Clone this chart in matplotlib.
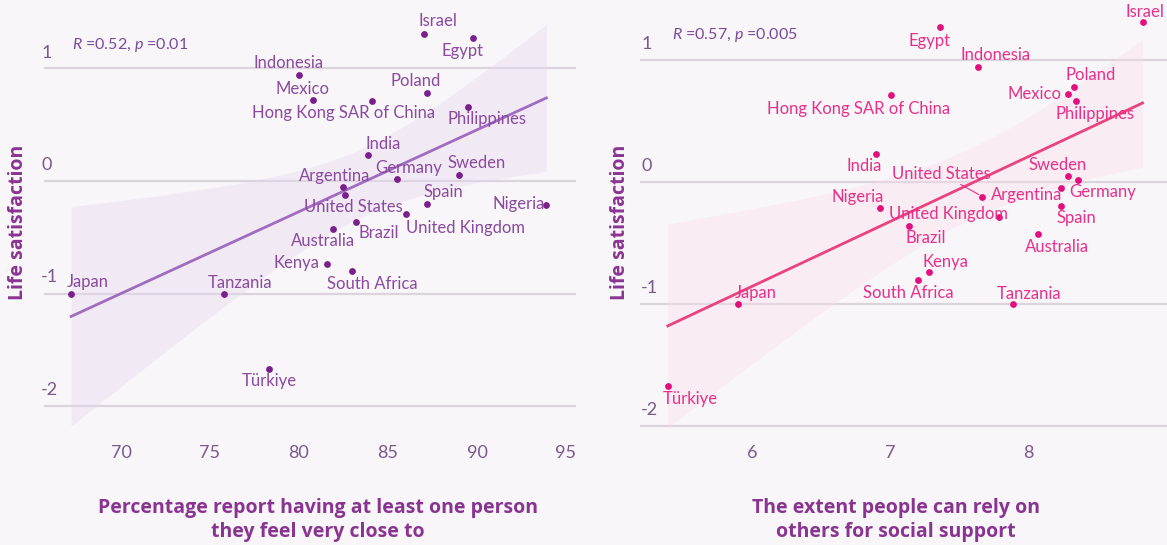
import numpy as np
import matplotlib
matplotlib.use("Agg")
import matplotlib.pyplot as plt

plt.rcParams['font.family'] = ['Lato', 'DejaVu Sans']
plt.rcParams['mathtext.fontset'] = 'custom'
plt.rcParams['mathtext.it'] = 'Lato:italic'
plt.rcParams['mathtext.rm'] = 'Lato'

# countries and life satisfaction (standardised), shared by both panels
countries = ["Israel", "Egypt", "Indonesia", "Poland", "Mexico", "Hong Kong SAR of China",
             "Philippines", "India", "Sweden", "Germany", "Argentina", "United States",
             "Spain", "Nigeria", "United Kingdom", "Brazil", "Australia", "Kenya",
             "South Africa", "Japan", "Tanzania", "Türkiye"]
life_sat = [1.31, 1.27, 0.94, 0.78, 0.72, 0.71, 0.66, 0.23, 0.05, 0.02, -0.05, -0.12,
            -0.20, -0.21, -0.29, -0.36, -0.43, -0.74, -0.80, -1.00, -1.00, -1.67]

# % with at least one person they feel very close to
close_pct = [87.0, 89.8, 80.0, 87.2, 80.8, 84.1, 89.5, 83.9, 89.0, 85.5, 82.5, 82.6,
             87.2, 93.9, 86.0, 83.2, 81.9, 81.6, 83.0, 67.2, 75.8, 78.3]
# extent people can rely on others for social support
rely_score = [8.83, 7.36, 7.64, 8.33, 8.29, 7.01, 8.35, 6.90, 8.29, 8.36, 8.24, 7.67,
              8.24, 6.93, 7.79, 7.14, 8.07, 7.28, 7.20, 5.90, 7.89, 5.39]

# label offsets in pixels (dx, dy), dy upwards
left_offsets = [(14, 13), (-11, -13), (-10, 12), (-11, 12), (-11, 11), (-28, -12),
                (19, -12), (15, 11), (17, 12), (12, 11), (-9, 11), (8, -13),
                (16, 11), (-28, 1), (60, -14), (23, -12), (-10, -12), (-31, 1),
                (20, -13), (17, 12), (16, 11), (1, -12)]
right_offsets = [(2, 10), (-10, -14), (17, 12), (17, 12), (-34, 0), (-33, -14),
                 (19, -13), (-12, -12), (-10, 11), (25, -12), (-34, -7), (-41, 23),
                 (15, -12), (-23, 11), (-51, 3), (16, -12), (19, -13), (17, 10),
                 (-9, -13), (18, 11), (16, 10), (22, -13)]

W, H = 1167, 545
fig = plt.figure(figsize=(W / 100, H / 100), dpi=100)
fig.patch.set_facecolor('#f8f6f9')


def px_axes(x0, x1, y0, y1):
    return fig.add_axes([x0 / W, 1 - y1 / H, (x1 - x0) / W, (y1 - y0) / H])


def panel(ax, x, y, offsets, dot_col, lab_col, line_col, band_col, stat_txt, stat_y,
          xticks, grid_x0, grid_x1):
    ax.set_facecolor('none')
    for s in ax.spines.values():
        s.set_visible(False)
    x = np.asarray(x)
    y = np.asarray(y)
    # least squares fit with 95% band
    b, a = np.polyfit(x, y, 1)
    n = len(x)
    resid = y - (a + b * x)
    s_err = np.sqrt(np.sum(resid ** 2) / (n - 2))
    xs = np.linspace(x.min(), x.max(), 100)
    se = s_err * np.sqrt(1 / n + (xs - x.mean()) ** 2 / np.sum((x - x.mean()) ** 2))
    ax.fill_between(xs, a + b * xs - 2.086 * se, a + b * xs + 2.086 * se,
                    color=band_col, alpha=0.35, lw=0, zorder=1)
    for yt in [1, 0, -1, -2]:
        ax.axhline(yt, xmin=grid_x0, xmax=grid_x1, color='#dcd4dc', lw=1.6, zorder=0)
        ax.annotate(str(yt), (0.002, yt), xycoords=ax.get_yaxis_transform(),
                    xytext=(0, 16), textcoords='offset pixels',
                    ha='left', va='center', fontsize=13, color='#7a5a8c')
    ax.plot(xs[[0, -1]], a + b * xs[[0, -1]], color=line_col, lw=2, zorder=2)
    ax.scatter(x, y, s=24, color=dot_col, zorder=3, lw=0)
    for i, name in enumerate(countries):
        dx, dy = offsets[i]
        arrow = None
        if abs(dx) > 35 and abs(dy) > 15:
            arrow = dict(arrowstyle='-', color=lab_col, lw=0.8, shrinkA=0, shrinkB=3)
        ax.annotate(name, (x[i], y[i]), xytext=(dx, dy), textcoords='offset pixels',
                    ha='center', va='center', fontsize=12, color=lab_col,
                    arrowprops=arrow, zorder=4)
    ax.text(0.06, stat_y, stat_txt, transform=ax.transAxes, fontsize=11.5,
            color='#7a4a9a', ha='left', va='center')
    ax.set_xticks(xticks)
    ax.set_yticks([])
    ax.tick_params(axis='x', length=0, pad=11, labelsize=13, labelcolor='#7a5a8c')


# left panel
axl = px_axes(40, 580, 0, 430)
axl.set_xlim(65.45, 95.79)
axl.set_ylim((181 - 430) / 112.5, 181 / 112.5)
panel(axl, close_pct, life_sat, left_offsets, '#7a1f8c', '#8a4a9e', '#a06cc0',
      '#e4d6ee', r"$R$ =0.52, $p$ =0.01", 0.895, [70, 75, 80, 85, 90, 95], 0.01, 0.99)

# right panel
axr = px_axes(640, 1167, 0, 430)
axr.set_xlim(6 + (640 - 752) / 138, 6 + (1167 - 752) / 138)
axr.set_ylim((182 - 430) / 122, 182 / 122)
panel(axr, rely_score, life_sat, right_offsets, '#e2107e', '#e8308a', '#e8437f',
      '#fbdbe6', r"$R$ =0.57, $p$ =0.005", 0.919, [6, 7, 8], 0.0, 1.0)

title_col = '#8a3492'
title_font = dict(family=['Open Sans', 'DejaVu Sans'], fontsize=14, fontweight='bold',
                  color=title_col)
fig.text(18 / W, 1 - 222 / H, "Life satisfaction", rotation=90, ha='center', va='center',
         **title_font)
fig.text(620 / W, 1 - 222 / H, "Life satisfaction", rotation=90, ha='center', va='center',
         **title_font)
fig.text(318 / W, 1 - 520 / H, "Percentage report having at least one person\nthey feel very close to",
         ha='center', va='center', linespacing=1.25, **title_font)
fig.text(896 / W, 1 - 520 / H, "The extent people can rely on\nothers for social support",
         ha='center', va='center', linespacing=1.25, **title_font)

fig.savefig("out.png", dpi=100, facecolor=fig.get_facecolor())
